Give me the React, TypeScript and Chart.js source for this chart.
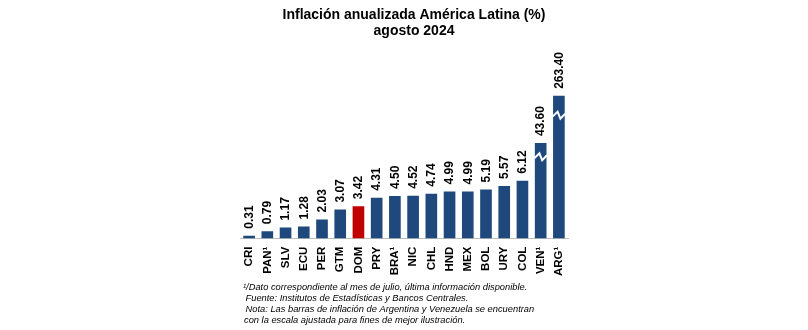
import React, { useEffect, useRef } from "react";
import { Chart, registerables } from "chart.js";

Chart.register(...registerables);

const titleLines = ["Inflación anualizada América Latina (%)", "agosto 2024"];
const categories = ["CRI", "PAN¹", "SLV", "ECU", "PER", "GTM", "DOM", "PRY", "BRA¹", "NIC", "CHL", "HND", "MEX", "BOL", "URY", "COL", "VEN¹", "ARG¹"];
// actual values shown in labels
const values = [0.31, 0.79, 1.17, 1.28, 2.03, 3.07, 3.42, 4.31, 4.5, 4.52, 4.74, 4.99, 4.99, 5.19, 5.57, 6.12, 43.6, 263.4];
// bar heights as drawn (VEN and ARG on an adjusted scale)
const drawnValues = [0.31, 0.79, 1.17, 1.28, 2.03, 3.07, 3.42, 4.31, 4.5, 4.52, 4.74, 4.99, 4.99, 5.19, 5.57, 6.12, 10.1, 15.1];
// scale-break marks (value on drawn scale), null = none
const breakAt = [null, null, null, null, null, null, null, null, null, null, null, null, null, null, null, null, 8.6, 13.0];
const highlight = "DOM";
const footnotes = [
  "¹/Dato correspondiente al mes de julio, última información disponible.",
  " Fuente: Institutos de Estadísticas y Bancos Centrales.",
  " Nota: Las barras de inflación de Argentina y Venezuela se encuentran",
  "con la escala ajustada para fines de mejor ilustración.",
];

const FONT = 'Arial, "Liberation Sans", sans-serif';
const BLUE = "#1F497D";
const RED = "#C00000";

export default function App() {
  const ref = useRef<HTMLCanvasElement | null>(null);

  useEffect(() => {
    const canvas = ref.current;
    if (!canvas) return;

    const textPlugin = {
      id: "texts",
      afterDatasetsDraw(chart: any) {
        const ctx = chart.ctx as CanvasRenderingContext2D;
        const meta = chart.getDatasetMeta(0);
        ctx.save();
        ctx.fillStyle = "#000";
        ctx.font = `bold 12px ${FONT}`;
        meta.data.forEach((bar: any, i: number) => {
          ctx.save();
          ctx.translate(bar.x + 0.5, bar.y - 7);
          ctx.rotate(-Math.PI / 2);
          ctx.textAlign = "left";
          ctx.textBaseline = "middle";
          ctx.fillText(values[i].toFixed(2), 0, 0);
          ctx.restore();
        });
        const yScale = chart.scales.y;
        meta.data.forEach((bar: any, i: number) => {
          const b = breakAt[i];
          if (b == null) return;
          const y = yScale.getPixelForValue(b);
          const x0 = bar.x - bar.width / 2 - 0.5;
          const w = bar.width + 1;
          ctx.save();
          ctx.strokeStyle = "#fff";
          ctx.lineWidth = 2;
          ctx.beginPath();
          ctx.moveTo(x0, y + 1);
          ctx.lineTo(x0 + w * 0.4, y - 4);
          ctx.lineTo(x0 + w * 0.62, y + 3);
          ctx.lineTo(x0 + w, y - 2);
          ctx.stroke();
          ctx.restore();
        });
        ctx.restore();
      },
      afterDraw(chart: any) {
        const ctx = chart.ctx as CanvasRenderingContext2D;
        ctx.save();
        ctx.fillStyle = "#000";
        ctx.textAlign = "center";
        ctx.textBaseline = "alphabetic";
        ctx.font = `bold 14px ${FONT}`;
        ctx.fillText(titleLines[0], 414, 19);
        ctx.fillText(titleLines[1], 414, 35);
        ctx.textAlign = "left";
        ctx.font = `italic 9.3px ${FONT}`;
        const xs = [243, 243, 243, 244];
        const ys = [290, 301, 312, 323];
        footnotes.forEach((t, i) => ctx.fillText(t, xs[i], ys[i]));
        ctx.restore();
      },
    };

    const chart = new Chart(canvas, {
      type: "bar",
      data: {
        labels: categories,
        datasets: [
          {
            data: drawnValues,
            backgroundColor: categories.map((c) => (c === highlight ? RED : BLUE)),
            barPercentage: 0.64,
            categoryPercentage: 1,
          },
        ],
      },
      options: {
        animation: false,
        responsive: false,
        maintainAspectRatio: false,
        layout: { padding: { left: 240, right: 240, top: 40, bottom: 46 } },
        plugins: {
          legend: { display: false },
          title: { display: false },
          tooltip: { enabled: false },
        },
        scales: {
          x: {
            grid: { display: false, drawTicks: false },
            border: { display: true, color: "#BFBFBF", width: 1 },
            ticks: {
              autoSkip: false,
              maxRotation: 90,
              minRotation: 90,
              padding: 8,
              color: "#000",
              font: { family: FONT, size: 11.5, weight: "bold" },
            },
          },
          y: {
            display: false,
            min: 0,
            max: 21,
          },
        },
      },
      plugins: [textPlugin],
    });

    return () => chart.destroy();
  }, []);

  return (
    <div style={{ position: "fixed", left: 0, top: 0, width: 808, height: 330, background: "#fff" }}>
      <canvas ref={ref} width={808} height={330} style={{ display: "block", width: 808, height: 330 }} />
    </div>
  );
}
